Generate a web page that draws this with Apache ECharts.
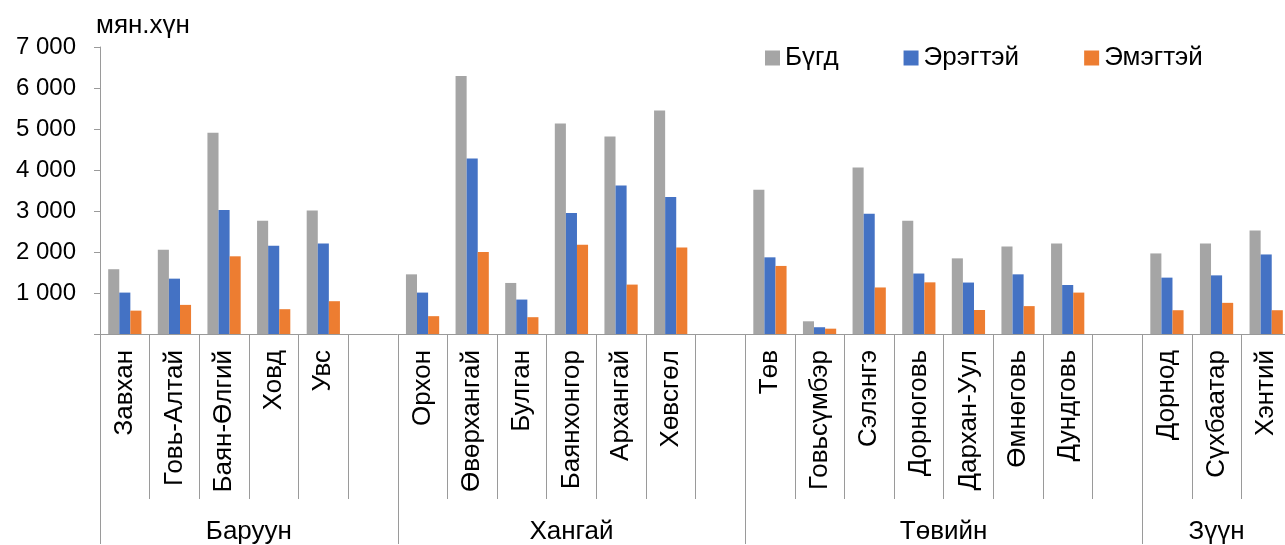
<!DOCTYPE html>
<html>
<head>
<meta charset="utf-8">
<script src="https://cdn.jsdelivr.net/npm/echarts@6/dist/echarts.min.js"></script>
<style>
html,body{margin:0;padding:0;background:#fff;overflow:hidden;width:1285px;height:545px;}
#chart{width:1292px;height:545px;}
</style>
</head>
<body>
<div id="chart"></div>
<script>
var categories = ['Завхан','Говь-Алтай','Баян-Өлгий','Ховд','Увс','',
  'Орхон','Өвөрхангай','Булган','Баянхонгор','Архангай','Хөвсгөл','',
  'Төв','Говьсүмбэр','Сэлэнгэ','Дорноговь','Дархан-Уул','Өмнөговь','Дундговь','',
  'Дорнод','Сүхбаатар','Хэнтий'];
var groupNames = ['Баруун','Хангай','Төвийн','Зүүн'];
var groupSizes = [6,7,8,3];
var seriesNames = ['Бүгд','Эрэгтэй','Эмэгтэй'];
var bugd    = [1580,2055,4910,2760,3015,null, 1455,6290,1245,5135,4820,5450,null, 3520,310,4060,2760,1845,2135,2210,null, 1965,2210,2525];
var eregtei = [1010,1350,3025,2150,2210,null, 1010,4280,840,2950,3625,3340,null, 1870,165,2930,1475,1255,1455,1195,null, 1375,1430,1940];
var emegtei = [570,710,1895,605,800,null, 435,2000,410,2175,1205,2110,null, 1660,130,1135,1260,585,680,1010,null, 580,760,580];
var yTicks = [0,1000,2000,3000,4000,5000,6000,7000];

// group boundaries and centers (in category units)
var bounds = [0], centers = [], acc = 0;
groupSizes.forEach(function(s){ centers.push(acc + s/2); acc += s; bounds.push(acc); });

var FONT = "'Liberation Sans', Arial, sans-serif";
var AX = '#9a9a9a';
var chart = echarts.init(document.getElementById('chart'), null, {renderer:'canvas'});
function fmt(v){ return v === 0 ? '' : String(v).replace(/\B(?=(\d{3})+(?!\d))/g, ' '); }

chart.setOption({
  animation:false,
  textStyle:{fontFamily:FONT},
  color:['#a5a5a5','#4472c4','#ed7d31'],
  legend:{
    data:seriesNames, left:765, top:45, padding:0, itemGap:65,
    itemWidth:15, itemHeight:15, icon:'rect',
    textStyle:{fontSize:26, color:'#000', fontFamily:FONT}
  },
  grid:{left:100, right:1, top:47, bottom:210, containLabel:false},
  xAxis:[{
    type:'category', data:categories,
    axisLine:{show:true, lineStyle:{color:AX, width:1}},
    axisTick:{show:true, interval:0, length:165, lineStyle:{color:AX}},
    axisLabel:{interval:0, rotate:90, margin:16, fontSize:26, color:'#000', fontFamily:FONT}
  },{
    type:'value', min:0, max:categories.length, position:'bottom',
    axisLine:{show:false},
    splitLine:{show:false},
    axisTick:{show:true, length:210, customValues:bounds, lineStyle:{color:AX}},
    axisLabel:{show:true, customValues:centers, margin:185, fontSize:26, color:'#000', fontFamily:FONT,
      formatter:function(v){ var i = centers.indexOf(v); return i >= 0 ? groupNames[i] : ''; }}
  }],
  yAxis:{
    type:'value', min:yTicks[0], max:yTicks[yTicks.length-1], interval:1000,
    name:'мян.хүн', nameLocation:'end', nameGap:8,
    nameTextStyle:{align:'left', verticalAlign:'bottom', fontSize:26, color:'#000', padding:[0,0,0,-4], fontFamily:FONT},
    axisLine:{show:true, lineStyle:{color:AX}},
    axisTick:{show:true, length:6, lineStyle:{color:AX}},
    splitLine:{show:false},
    axisLabel:{fontSize:24, color:'#000', margin:24, formatter:fmt, fontFamily:FONT}
  },
  series:[
    {name:seriesNames[0], type:'bar', data:bugd, barGap:'0%', barCategoryGap:'33%', xAxisIndex:0},
    {name:seriesNames[1], type:'bar', data:eregtei, barGap:'0%', barCategoryGap:'33%', xAxisIndex:0},
    {name:seriesNames[2], type:'bar', data:emegtei, barGap:'0%', barCategoryGap:'33%', xAxisIndex:0}
  ]
});
</script>
</body>
</html>
